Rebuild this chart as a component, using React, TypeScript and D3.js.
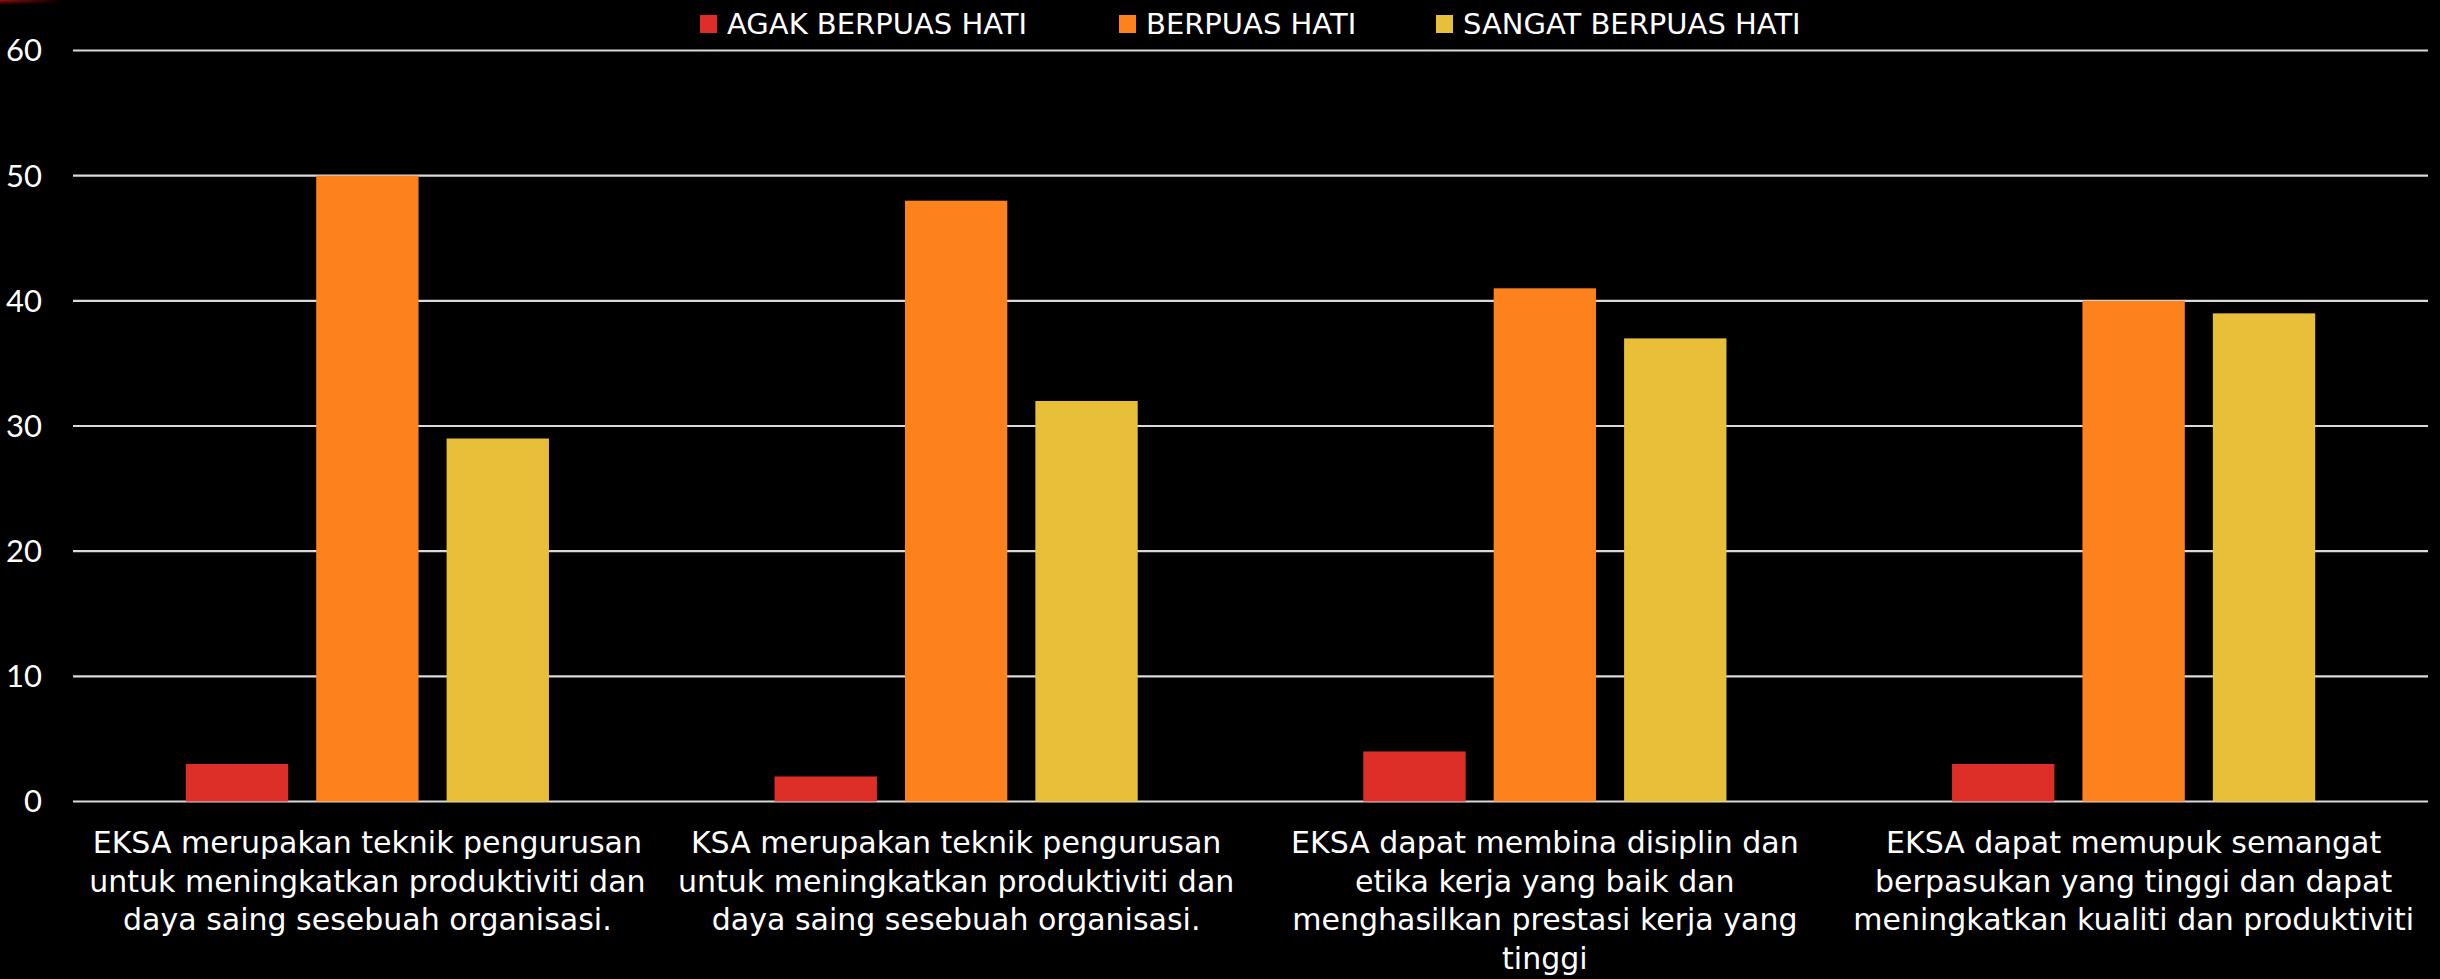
import React from "react";
import * as d3 from "d3";

const categories = [
  "EKSA merupakan teknik pengurusan\nuntuk meningkatkan produktiviti dan\ndaya saing sesebuah organisasi.",
  "KSA merupakan teknik pengurusan\nuntuk meningkatkan produktiviti dan\ndaya saing sesebuah organisasi.",
  "EKSA dapat membina disiplin dan\netika kerja yang baik dan\nmenghasilkan prestasi kerja yang\ntinggi",
  "EKSA dapat memupuk semangat\nberpasukan yang tinggi dan dapat\nmeningkatkan kualiti dan produktiviti",
];
const seriesNames = ["AGAK BERPUAS HATI", "BERPUAS HATI", "SANGAT BERPUAS HATI"];
const agakBerpuasHati = [3, 2, 4, 3];
const berpuasHati = [50, 48, 41, 40];
const sangatBerpuasHati = [29, 32, 37, 39];
const yTicks = [0, 10, 20, 30, 40, 50, 60];
const seriesColors = ["#DE2E28", "#FD821E", "#E8BF38"];

const W = 2440;
const H = 979;
const TICK_FONT = "Lato, 'Open Sans', sans-serif";
const TEXT_FONT = "'DejaVu Sans', 'Open Sans', sans-serif";

export default function App() {
  const seriesValues = [agakBerpuasHati, berpuasHati, sangatBerpuasHati];
  const x0 = d3.scaleBand<number>().domain(d3.range(categories.length)).range([73, 2428]).padding(0);
  const x1 = d3
    .scaleBand<number>()
    .domain(d3.range(seriesNames.length))
    .range([0, x0.bandwidth()])
    .paddingInner(0.215)
    .paddingOuter(0.865);
  const y = d3.scaleLinear().domain([0, 60]).range([801.5, 50.5]);

  const legendX = [700, 1119, 1436];

  return (
    <svg
      width={W}
      height={H}
      style={{ position: "absolute", left: 0, top: 0, display: "block", background: "#000" }}
    >
      <defs>
        <linearGradient id="corner" x1="0" y1="0" x2="1" y2="0">
          <stop offset="0" stopColor="#a00d10" />
          <stop offset="1" stopColor="#a00d10" stopOpacity="0" />
        </linearGradient>
        <linearGradient id="cornerV" x1="0" y1="0" x2="0" y2="1">
          <stop offset="0" stopColor="#fff" />
          <stop offset="1" stopColor="#fff" stopOpacity="0" />
        </linearGradient>
        <mask id="cornerMask">
          <rect x={0} y={0} width={64} height={5} fill="url(#cornerV)" />
        </mask>
      </defs>
      <rect x={0} y={0} width={W} height={H} fill="#000" />
      <rect x={0} y={0} width={64} height={5} fill="url(#corner)" mask="url(#cornerMask)" />

      {/* gridlines */}
      {yTicks.map((t) => (
        <line
          key={t}
          x1={73}
          x2={2428}
          y1={y(t)}
          y2={y(t)}
          stroke="#DADADA"
          strokeWidth={2.2}
        />
      ))}
      {/* y tick labels */}
      {yTicks.map((t) => (
        <text
          key={"l" + t}
          x={42}
          y={y(t)}
          dy="0.35em"
          textAnchor="end"
          fill="#fff"
          fontFamily={TICK_FONT}
          fontSize={31}
        >
          {t}
        </text>
      ))}

      {/* bars */}
      {categories.map((c, i) => (
        <g key={i} transform={`translate(${x0(i)},0)`}>
          {seriesValues.map((vals, s) => (
            <rect
              key={s}
              x={x1(s)}
              y={y(vals[i])}
              width={x1.bandwidth()}
              height={y(0) - y(vals[i])}
              fill={seriesColors[s]}
            />
          ))}
        </g>
      ))}

      {/* category labels */}
      {categories.map((c, i) => (
        <text
          key={"c" + i}
          x={(x0(i) as number) + x0.bandwidth() / 2}
          y={853}
          textAnchor="middle"
          fill="#fff"
          fontFamily={TEXT_FONT}
          fontSize={30}
        >
          {c.split("\n").map((line, k) => (
            <tspan key={k} x={(x0(i) as number) + x0.bandwidth() / 2} dy={k === 0 ? 0 : 38.6}>
              {line}
            </tspan>
          ))}
        </text>
      ))}

      {/* legend */}
      {seriesNames.map((n, s) => (
        <g key={"lg" + s}>
          <rect x={legendX[s]} y={15} width={17} height={18} fill={seriesColors[s]} />
          <text
            x={legendX[s] + 27}
            y={34}
            fill="#fff"
            fontFamily={TEXT_FONT}
            fontSize={29}
          >
            {n}
          </text>
        </g>
      ))}
    </svg>
  );
}
